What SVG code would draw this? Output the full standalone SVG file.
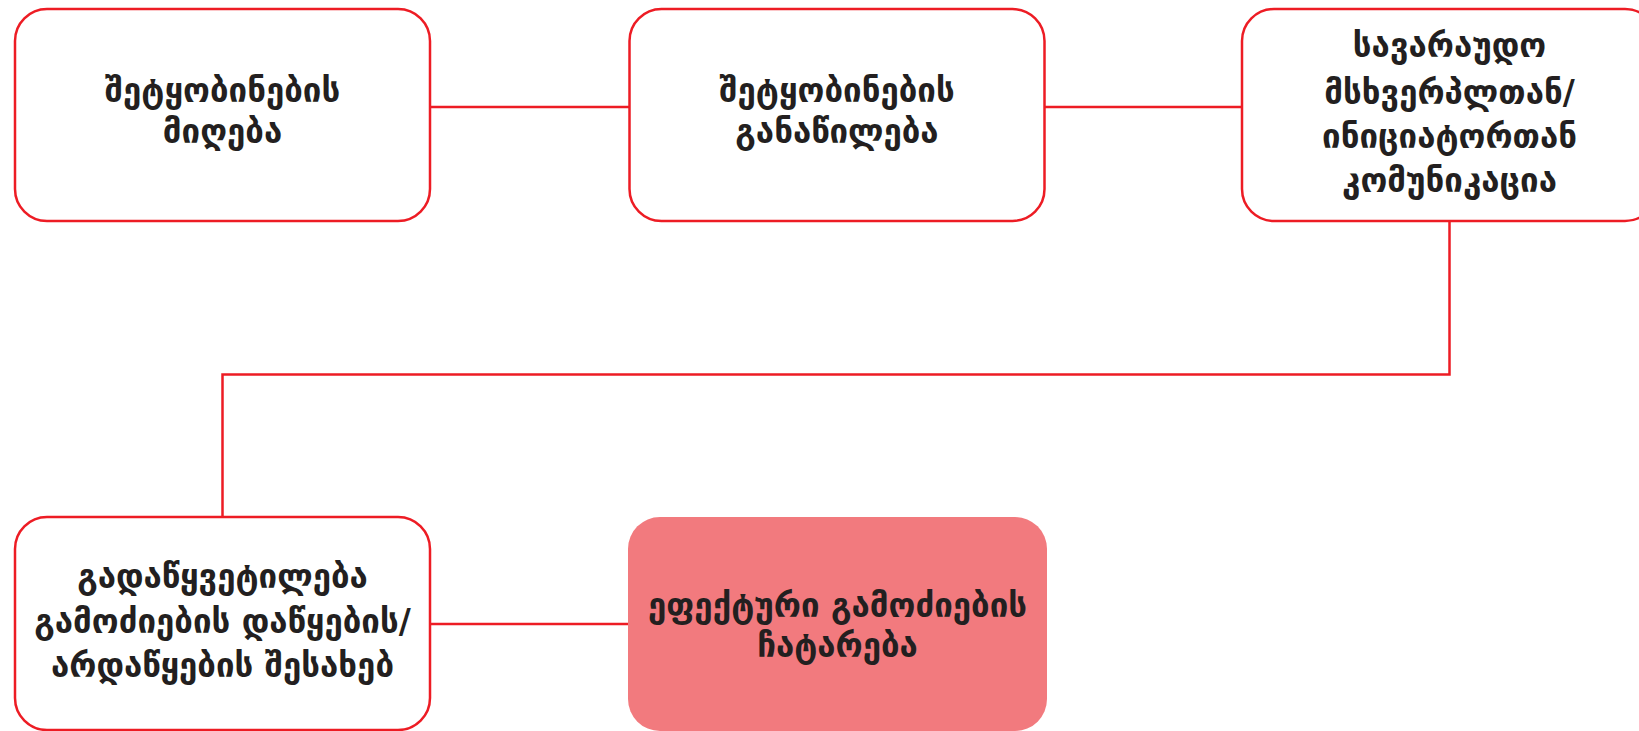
<svg xmlns="http://www.w3.org/2000/svg" width="1639" height="731" viewBox="0 0 1639 731">
<style>
.box{fill:#ffffff;stroke:#ed1c24;stroke-width:2.5}
.hl{fill:#f27a7e;stroke:none}
.t{font-family:"DejaVu Sans",sans-serif;font-weight:bold;font-size:33px;fill:#231f20;text-anchor:middle}
.c{fill:none;stroke:#ed1c24;stroke-width:2.5}
</style>
<rect width="1639" height="731" fill="#ffffff"/>
<g id="connectors">
<line class="c" x1="430" y1="107" x2="629" y2="107"/>
<line class="c" x1="1045" y1="107" x2="1242" y2="107"/>
<polyline class="c" points="1449.5,221 1449.5,374.5 222.5,374.5 222.5,517"/>
<line class="c" x1="430" y1="624" x2="629" y2="624"/>
</g>
<g id="node1">
<rect class="box" x="15" y="9" width="415" height="212" rx="32"/>
<text class="t" x="222.5" y="102">შეტყობინების</text>
<text class="t" x="222.5" y="143">მიღება</text>
</g>
<g id="node2">
<rect class="box" x="629.5" y="9" width="415" height="212" rx="32"/>
<text class="t" x="837" y="102">შეტყობინების</text>
<text class="t" x="837" y="143">განაწილება</text>
</g>
<g id="node3">
<rect class="box" x="1242" y="9" width="415" height="212" rx="32"/>
<text class="t" x="1449.5" y="57">სავარაუდო</text>
<text class="t" x="1449.5" y="104">მსხვერპლთან/</text>
<text class="t" x="1449.5" y="148">ინიციატორთან</text>
<text class="t" x="1449.5" y="192">კომუნიკაცია</text>
</g>
<g id="node4">
<rect class="box" x="15" y="517" width="415" height="213" rx="32"/>
<text class="t" x="222.5" y="588">გადაწყვეტილება</text>
<text class="t" x="222.5" y="633">გამოძიების დაწყების/</text>
<text class="t" x="222.5" y="677">არდაწყების შესახებ</text>
</g>
<g id="node5">
<rect class="hl" x="628" y="517" width="419" height="214" rx="32"/>
<text class="t" x="837.5" y="617">ეფექტური გამოძიების</text>
<text class="t" x="837.5" y="657">ჩატარება</text>
</g>
</svg>
